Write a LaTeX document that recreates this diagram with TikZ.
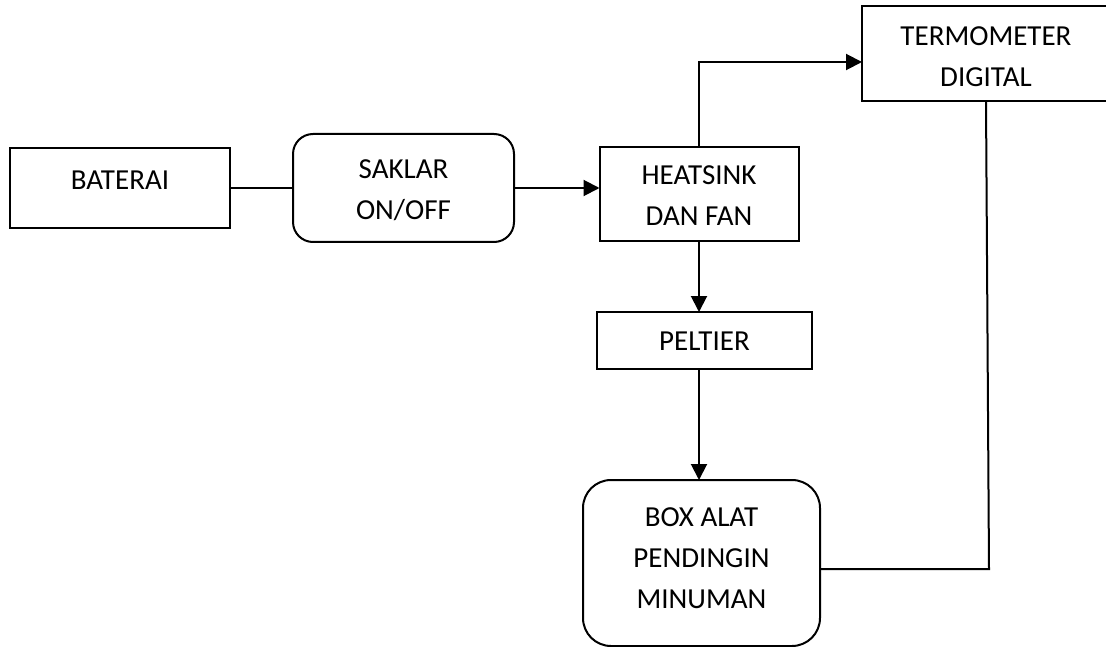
\documentclass[tikz,border=0pt]{standalone}
\usepackage{fontspec}
\setmainfont{Carlito}
\usetikzlibrary{arrows.meta}
\tikzset{
  blk/.style={draw=black, line width=2pt, inner sep=0pt, outer sep=0pt, fill=white},
  rblk/.style={blk, rounded corners=#1},
  lbl/.style={font=\fontsize{29}{41}\selectfont, align=center, inner sep=0pt, text=black},
  wire/.style={draw=black, line width=2pt},
  arr/.style={wire, -{Triangle[length=16pt,width=16pt]}},
}
\begin{document}
\begin{tikzpicture}[x=1pt,y=-1pt]
\useasboundingbox (0,0) rectangle (1106,647);
\fill[white] (0,0) rectangle (1106,647);

\node[blk, minimum width=220pt, minimum height=80pt,
  label={[lbl, yshift=8pt]center:BATERAI}] (bat) at (120,188) {};
\node[rblk=20pt, minimum width=221pt, minimum height=108pt,
  label={[lbl, yshift=-2pt]center:SAKLAR\\ON/OFF}] (sak) at (403.5,188) {};
\node[blk, minimum width=199pt, minimum height=94pt,
  label={[lbl, yshift=-2pt]center:HEATSINK\\DAN FAN}] (heat) at (699,194) {};
\node[blk, minimum width=248pt, minimum height=95pt,
  label={[lbl, yshift=-3pt]center:TERMOMETER\\DIGITAL}] (term) at (986,53.5) {};
\node[blk, minimum width=215pt, minimum height=57pt,
  label={[lbl, yshift=-1pt]center:PELTIER}] (pel) at (704.5,340.5) {};
\node[rblk=28pt, minimum width=237pt, minimum height=166pt,
  label={[lbl, yshift=5pt]center:BOX ALAT\\PENDINGIN\\MINUMAN}] (box) at (701.5,563) {};

\coordinate (bt) at (989,569);

\draw[wire] (bat.east) -- (bat.east -| sak.west);
\draw[arr] (sak.east) -- (sak.east -| heat.west);
\draw[arr] (heat.north) |- ([yshift=-8.5pt]term.west);
\draw[arr] (heat.south) -- (heat.south |- pel.north);
\draw[arr] (heat.south |- pel.south) -- (heat.south |- box.north);
\draw[wire] ([yshift=-6pt]box.east) -- (bt) -- (term.south);
\end{tikzpicture}
\end{document}
